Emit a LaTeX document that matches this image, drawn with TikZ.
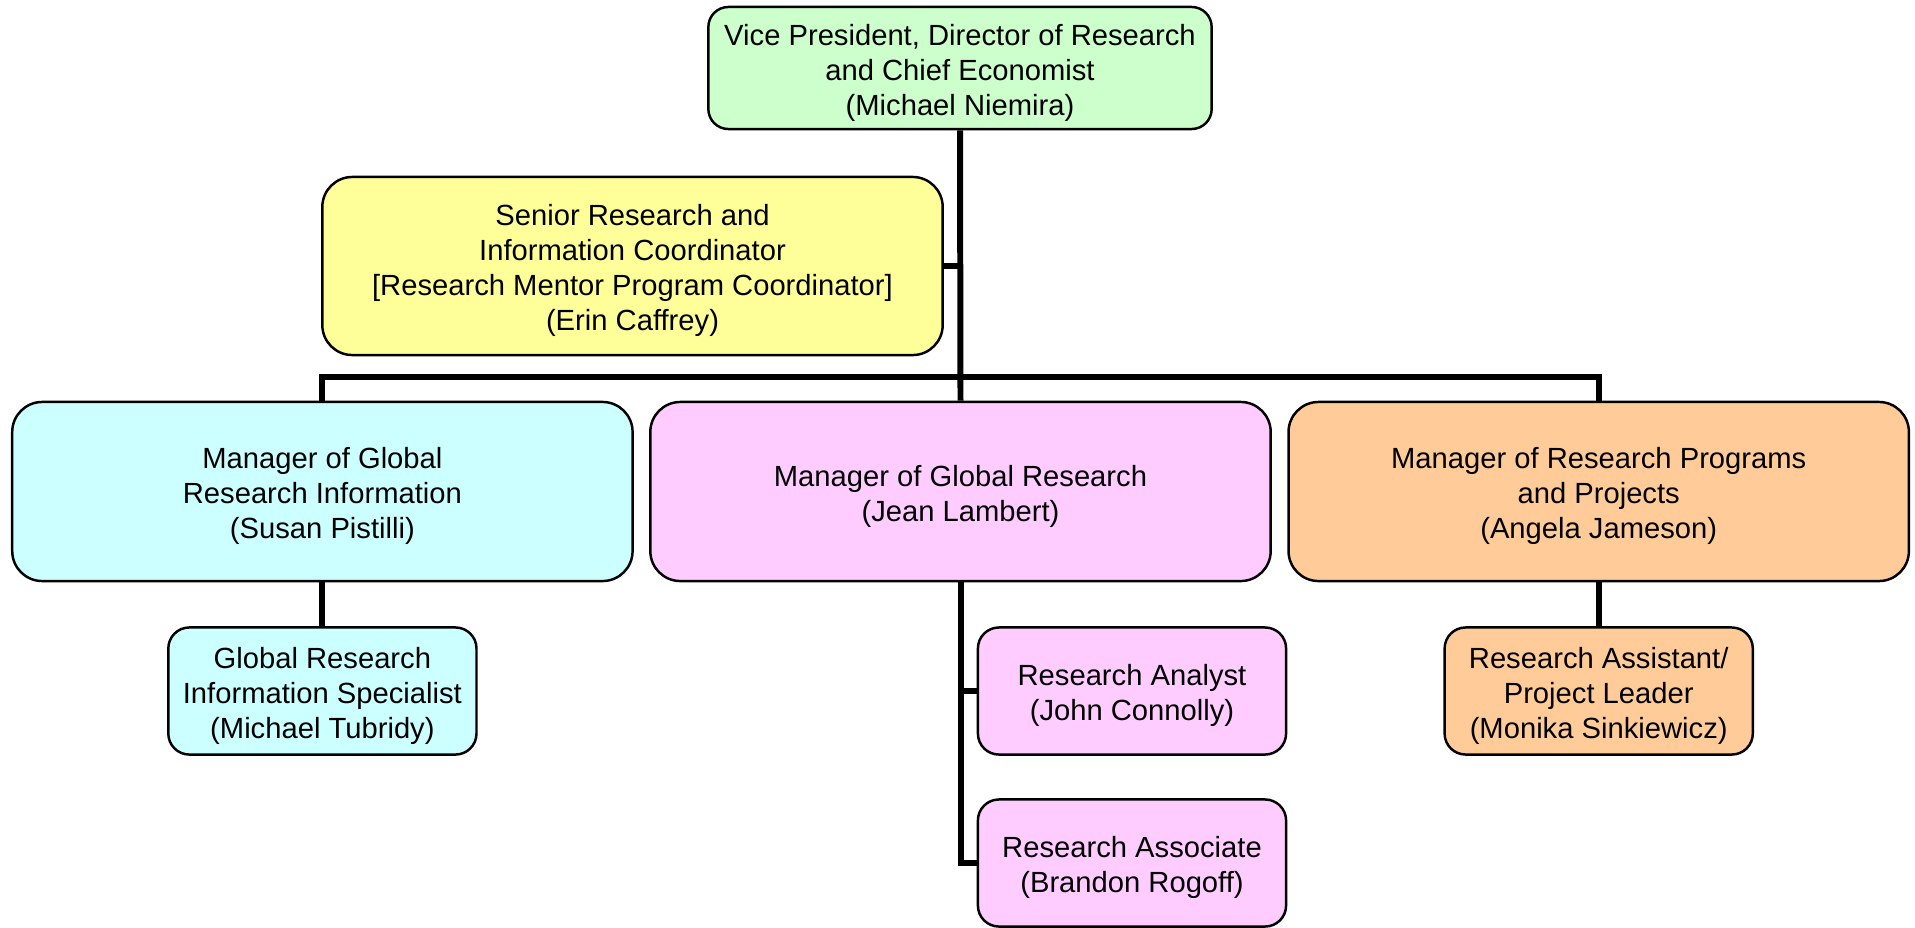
\documentclass[tikz,border=0pt]{standalone}
\usepackage{fontspec}
\setmainfont{Liberation Sans}
\usepackage{tikz}
\def\orgfont{\fontsize{8.3pt}{9.96pt}\selectfont}
\def\lift{\rule{0pt}{8.6pt}}
\definecolor{vpgreen}{HTML}{CCFFCC}
\definecolor{coordyellow}{HTML}{FFFF99}
\definecolor{infocyan}{HTML}{CCFFFF}
\definecolor{globalpink}{HTML}{FFCCFF}
\definecolor{progorange}{HTML}{FFCC99}
\tikzset{
	box/.style={draw, line width=0.7pt, align=center, inner sep=0pt, font=\orgfont},
	bigbox/.style={box, minimum width=6.2cm, minimum height=1.79cm, rounded corners=0.3cm},
	smallbox/.style={box, minimum width=3.08cm, minimum height=1.27cm, rounded corners=0.21cm},
	link/.style={line width=1.7pt},
}

\begin{document}
\begin{tikzpicture}[x=0.01cm, y=-0.01cm]
			%%%%% START %%%%%
			\useasboundingbox (0, 0) rectangle (1915, 927);
			
			\node[box, fill=vpgreen, minimum width=5.03cm, minimum height=1.22cm, rounded corners=0.2cm] (vp) at (960, 68) {\lift Vice President, Director of Research\\and Chief Economist\\(Michael Niemira)};
			
			\node[bigbox, fill=coordyellow, minimum height=1.78cm] (coord) at (632.5, 266) {\lift Senior Research and\\Information Coordinator\\{[Research Mentor Program Coordinator]}\\(Erin Caffrey)};
			
			\node[bigbox, fill=infocyan] (info) at (322.4, 491.5) {\lift Manager of Global\\Research Information\\(Susan Pistilli)};
			\node[bigbox, fill=globalpink] (global) at (960.5, 491.5) {\lift Manager of Global Research\\(Jean Lambert)};
			\node[bigbox, fill=progorange] (prog) at (1598.7, 491.5) {\lift Manager of Research Programs\\and Projects\\(Angela Jameson)};
			
			\node[smallbox, fill=infocyan] (spec) at (322.4, 691) {\lift Global Research\\Information Specialist\\(Michael Tubridy)};
			\node[smallbox, fill=globalpink] (analyst) at (1132, 691) {\lift Research Analyst\\(John Connolly)};
			\node[smallbox, fill=globalpink] (assoc) at (1132, 863) {\lift Research Associate\\(Brandon Rogoff)};
			\node[smallbox, fill=progorange] (assist) at (1598.7, 691) {\lift Research Assistant/\\Project Leader\\(Monika Sinkiewicz)};
			
			\coordinate (bus) at (960, 377.4);
			
			% connectors
			\draw[link] (vp.south) -- (global.north);
			\draw[link] (coord.east) -- (coord.east -| vp.south);
			\draw[link] (info.north) |- (bus) -| (prog.north);
			\draw[link] (info.south) -- (spec.north);
			\draw[link] (prog.south) -- (assist.north);
			\draw[link] (global.south) |- (assoc.west);
			\draw[link] (analyst.west) -- (analyst.west -| global.south);
			
			%%%%% END %%%%%
\end{tikzpicture}
\end{document}
